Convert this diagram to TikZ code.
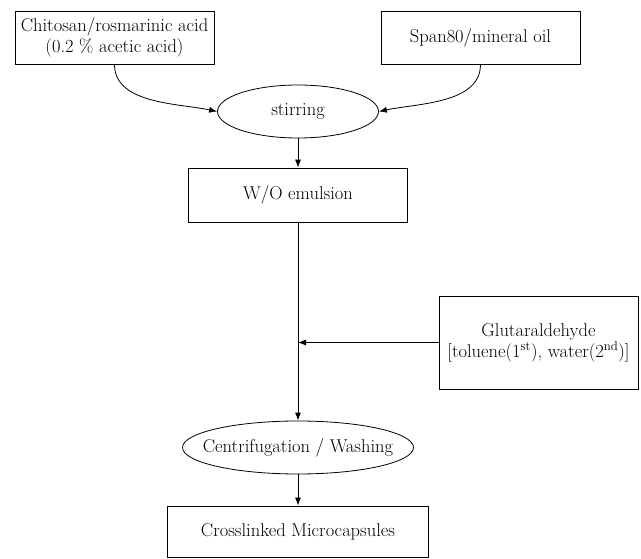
\documentclass[tikz,border=0pt]{standalone}
\usetikzlibrary{arrows.meta,shapes.geometric}
\tikzstyle{flow}=[%
	every node/.style={
		draw, line width=0.8pt, align=center, inner sep=0,
		font=\fontsize{18.5}{21}\selectfont
	},
	every path/.style={line width=0.8pt},
	>={Latex[length=8pt,width=6pt]}
]
\tikzstyle{box}=[rectangle]
\tikzstyle{oval}=[ellipse]

\begin{document}
\begin{tikzpicture}[x=1pt, y=-1pt, flow]
	\draw[fill=white, draw=none] (0,0) rectangle (641,559);

	\node[box, minimum width=199pt, minimum height=53pt] (chito) at (114.5,37.5)
		{Chitosan/rosmarinic acid\\(0.2 \% acetic acid)};
	\node[box, minimum width=199pt, minimum height=53pt] (span) at (480.5,37.5)
		{Span80/mineral oil};
	\node[oval, minimum width=161pt, minimum height=53pt] (stir) at (298,111.5)
		{stirring};
	\node[box, minimum width=219pt, minimum height=54pt] (wo) at (298,195)
		{W/O emulsion};
	\node[box, minimum width=199pt, minimum height=93pt] (glut) at (538.5,342.5)
		{Glutaraldehyde\\{[}toluene(1\textsuperscript{st}), water(2\textsuperscript{nd})]};
	\node[oval, inner xsep=-19pt, minimum width=231pt, minimum height=53pt] (centr) at (298,447.5)
		{Centrifugation / Washing};
	\node[box, minimum width=261pt, minimum height=51pt] (micro) at (298,531.5)
		{Crosslinked Microcapsules};

	\coordinate (join) at (wo.south |- glut.west);

	\draw[->] (chito.south) to [out=-90, in=168, looseness=0.9] (stir.west);
	\draw[->] (span.south) to [out=-90, in=12, looseness=0.9] (stir.east);
	\draw[->] (stir.south) -- (wo.north);
	\draw[->] (wo.south) -- (centr.north);
	\draw[->] (glut.west) -- (join);
	\draw[->] (centr.south) -- (micro.north);
\end{tikzpicture}
\end{document}
